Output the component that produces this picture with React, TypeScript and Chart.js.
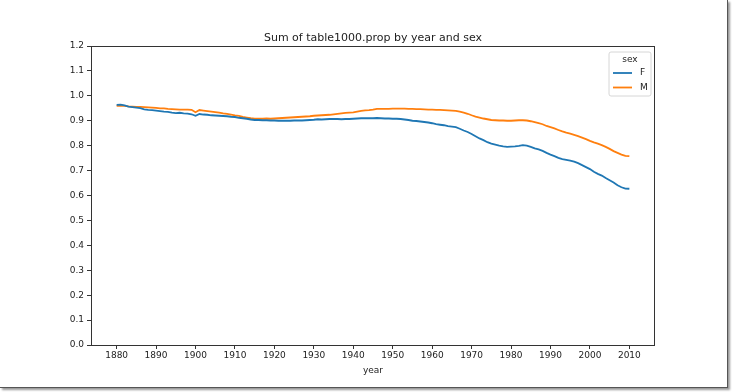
import { useEffect, useRef } from 'react';
import { Chart, registerables } from 'chart.js';

Chart.register(...registerables);

const years: number[] = Array.from({ length: 131 }, (_, i) => 1880 + i);

const femaleProp: number[] = [
  0.964, 0.965, 0.962, 0.957, 0.955, 0.953, 0.951, 0.946, 0.944, 0.943,
  0.941, 0.939, 0.937, 0.936, 0.933, 0.931, 0.932, 0.930, 0.929, 0.926,
  0.920, 0.927, 0.925, 0.924, 0.922, 0.921, 0.920, 0.919, 0.918, 0.916,
  0.915, 0.912, 0.910, 0.908, 0.905, 0.903, 0.903, 0.902, 0.902, 0.901,
  0.901, 0.900, 0.900, 0.900, 0.900, 0.901, 0.901, 0.901, 0.902, 0.903,
  0.904, 0.906, 0.905, 0.906, 0.907, 0.907, 0.907, 0.906, 0.907, 0.907,
  0.908, 0.909, 0.910, 0.910, 0.910, 0.910, 0.911, 0.910, 0.909, 0.909,
  0.908, 0.908, 0.907, 0.905, 0.903, 0.900, 0.899, 0.897, 0.895, 0.893,
  0.890, 0.886, 0.884, 0.882, 0.878, 0.876, 0.874, 0.868, 0.861, 0.855,
  0.847, 0.838, 0.829, 0.822, 0.814, 0.808, 0.804, 0.800, 0.797, 0.795,
  0.796, 0.797, 0.799, 0.802, 0.800, 0.795, 0.789, 0.785, 0.779, 0.771,
  0.764, 0.758, 0.751, 0.746, 0.743, 0.740, 0.736, 0.730, 0.722, 0.714,
  0.706, 0.695, 0.687, 0.680, 0.670, 0.661, 0.652, 0.641, 0.633, 0.628, 0.627,
];

const maleProp: number[] = [
  0.960, 0.961, 0.960, 0.958, 0.957, 0.956, 0.956, 0.955, 0.954, 0.953,
  0.952, 0.950, 0.950, 0.948, 0.947, 0.946, 0.945, 0.945, 0.945, 0.944,
  0.934, 0.943, 0.941, 0.939, 0.937, 0.935, 0.933, 0.930, 0.928, 0.925,
  0.922, 0.920, 0.916, 0.913, 0.910, 0.908, 0.908, 0.908, 0.909, 0.908,
  0.909, 0.910, 0.911, 0.912, 0.913, 0.914, 0.915, 0.916, 0.917, 0.918,
  0.920, 0.921, 0.922, 0.923, 0.924, 0.926, 0.928, 0.930, 0.932, 0.933,
  0.934, 0.937, 0.940, 0.942, 0.943, 0.945, 0.948, 0.948, 0.948, 0.948,
  0.949, 0.949, 0.949, 0.949, 0.948, 0.948, 0.947, 0.947, 0.946, 0.945,
  0.945, 0.944, 0.944, 0.943, 0.942, 0.941, 0.940, 0.937, 0.933, 0.928,
  0.922, 0.917, 0.913, 0.909, 0.906, 0.903, 0.902, 0.901, 0.901, 0.900,
  0.900, 0.901, 0.902, 0.902, 0.901, 0.898, 0.894, 0.890, 0.886, 0.879,
  0.874, 0.869, 0.863, 0.857, 0.852, 0.848, 0.843, 0.838, 0.832, 0.826,
  0.819, 0.813, 0.808, 0.802, 0.795, 0.787, 0.778, 0.771, 0.764, 0.759, 0.758,
];

const seriesNames: string[] = ['F', 'M'];
const seriesColors: string[] = ['#1f77b4', '#ff7f0e'];
const xTickValues: number[] = [1880, 1890, 1900, 1910, 1920, 1930, 1940, 1950, 1960, 1970, 1980, 1990, 2000, 2010];
const yTickValues: number[] = [0, 0.1, 0.2, 0.3, 0.4, 0.5, 0.6, 0.7, 0.8, 0.9, 1.0, 1.1, 1.2];
const chartTitle = 'Sum of table1000.prop by year and sex';
const xAxisTitle = 'year';
const legendTitle = 'sex';

const FONT = '"DejaVu Sans", sans-serif';
const AXIS_COLOR = '#333';
const TEXT_COLOR = '#222';

const framePlugin = {
  id: 'frameAndExtras',
  afterDraw(chart: any) {
    const { ctx, chartArea } = chart;
    const { left, right, top, bottom } = chartArea;
    ctx.save();
    // frame
    ctx.strokeStyle = AXIS_COLOR;
    ctx.lineWidth = 1;
    ctx.strokeRect(Math.round(left) + 0.5, Math.round(top) + 0.5, Math.round(right - left) - 1, Math.round(bottom - top));
    // title
    ctx.fillStyle = TEXT_COLOR;
    ctx.font = `11px ${FONT}`;
    ctx.textAlign = 'center';
    ctx.textBaseline = 'middle';
    ctx.fillText(chartTitle, (left + right) / 2, top - 8);
    // legend
    const bw = 42;
    const bh = 44;
    const bx = right - 4 - bw;
    const by = top + 6;
    const r = 2;
    ctx.beginPath();
    ctx.moveTo(bx + r, by);
    ctx.lineTo(bx + bw - r, by);
    ctx.arcTo(bx + bw, by, bx + bw, by + r, r);
    ctx.lineTo(bx + bw, by + bh - r);
    ctx.arcTo(bx + bw, by + bh, bx + bw - r, by + bh, r);
    ctx.lineTo(bx + r, by + bh);
    ctx.arcTo(bx, by + bh, bx, by + bh - r, r);
    ctx.lineTo(bx, by + r);
    ctx.arcTo(bx, by, bx + r, by, r);
    ctx.closePath();
    ctx.fillStyle = 'rgba(255,255,255,0.8)';
    ctx.fill();
    ctx.strokeStyle = '#d6d6d6';
    ctx.lineWidth = 1;
    ctx.stroke();
    ctx.font = `9px ${FONT}`;
    ctx.fillStyle = TEXT_COLOR;
    ctx.textAlign = 'center';
    ctx.fillText(legendTitle, bx + bw / 2, by + 8);
    chart.data.datasets.forEach((ds: any, i: number) => {
      const y = by + 21 + i * 14.5;
      ctx.strokeStyle = ds.borderColor;
      ctx.lineWidth = 1.8;
      ctx.beginPath();
      ctx.moveTo(bx + 4, y);
      ctx.lineTo(bx + 23, y);
      ctx.stroke();
      ctx.fillStyle = TEXT_COLOR;
      ctx.textAlign = 'left';
      ctx.fillText(ds.label, bx + 31, y);
    });
    ctx.restore();
  },
};

export default function App() {
  const canvasRef = useRef<HTMLCanvasElement | null>(null);

  useEffect(() => {
    if (!canvasRef.current) return;
    const datasets = [femaleProp, maleProp].map((vals, i) => ({
      label: seriesNames[i],
      data: years.map((yr, j) => ({ x: yr, y: vals[j] })),
      borderColor: seriesColors[i],
      backgroundColor: seriesColors[i],
      borderWidth: 1.8,
      pointRadius: 0,
      tension: 0,
      fill: false,
    }));
    const chart = new Chart(canvasRef.current, {
      type: 'line',
      data: { datasets },
      options: {
        animation: false,
        responsive: false,
        maintainAspectRatio: false,
        layout: { padding: { left: 0, right: 72, top: 46, bottom: 11 } },
        plugins: {
          legend: { display: false },
          title: { display: false },
          tooltip: { enabled: false },
        },
        scales: {
          x: {
            type: 'linear',
            min: 1873.5,
            max: 2016.5,
            afterBuildTicks: (scale: any) => {
              scale.ticks = xTickValues.map((v) => ({ value: v }));
            },
            afterFit: (scale: any) => {
              scale.height = 31;
            },
            border: { display: false },
            grid: {
              drawOnChartArea: false,
              drawTicks: true,
              tickLength: 4,
              color: AXIS_COLOR,
              lineWidth: 1,
            },
            ticks: {
              autoSkip: false,
              maxRotation: 0,
              padding: 1,
              color: TEXT_COLOR,
              font: { family: FONT, size: 9 },
              callback: (v: any) => String(v),
            },
            title: {
              display: true,
              text: xAxisTitle,
              color: TEXT_COLOR,
              font: { family: FONT, size: 9 },
              padding: { top: 0, bottom: 0 },
            },
          },
          y: {
            type: 'linear',
            min: 0,
            max: 1.2,
            afterBuildTicks: (scale: any) => {
              scale.ticks = yTickValues.map((v) => ({ value: v }));
            },
            afterFit: (scale: any) => {
              scale.width = 91;
            },
            border: { display: false },
            grid: {
              drawOnChartArea: false,
              drawTicks: true,
              tickLength: 4,
              color: AXIS_COLOR,
              lineWidth: 1,
            },
            ticks: {
              autoSkip: false,
              padding: 3,
              color: TEXT_COLOR,
              font: { family: FONT, size: 9 },
              callback: (v: any) => Number(v).toFixed(1),
            },
          },
        },
      },
      plugins: [framePlugin],
    });
    return () => chart.destroy();
  }, []);

  return (
    <div
      style={{
        position: 'fixed',
        left: 0,
        top: 0,
        width: 727,
        height: 387,
        background: '#fff',
        borderRight: '1px solid #555',
        borderBottom: '1px solid #555',
        boxShadow: '2px 2px 2px #999',
      }}
    >
      <canvas ref={canvasRef} width={727} height={387} style={{ display: 'block', width: 727, height: 387 }} />
    </div>
  );
}
